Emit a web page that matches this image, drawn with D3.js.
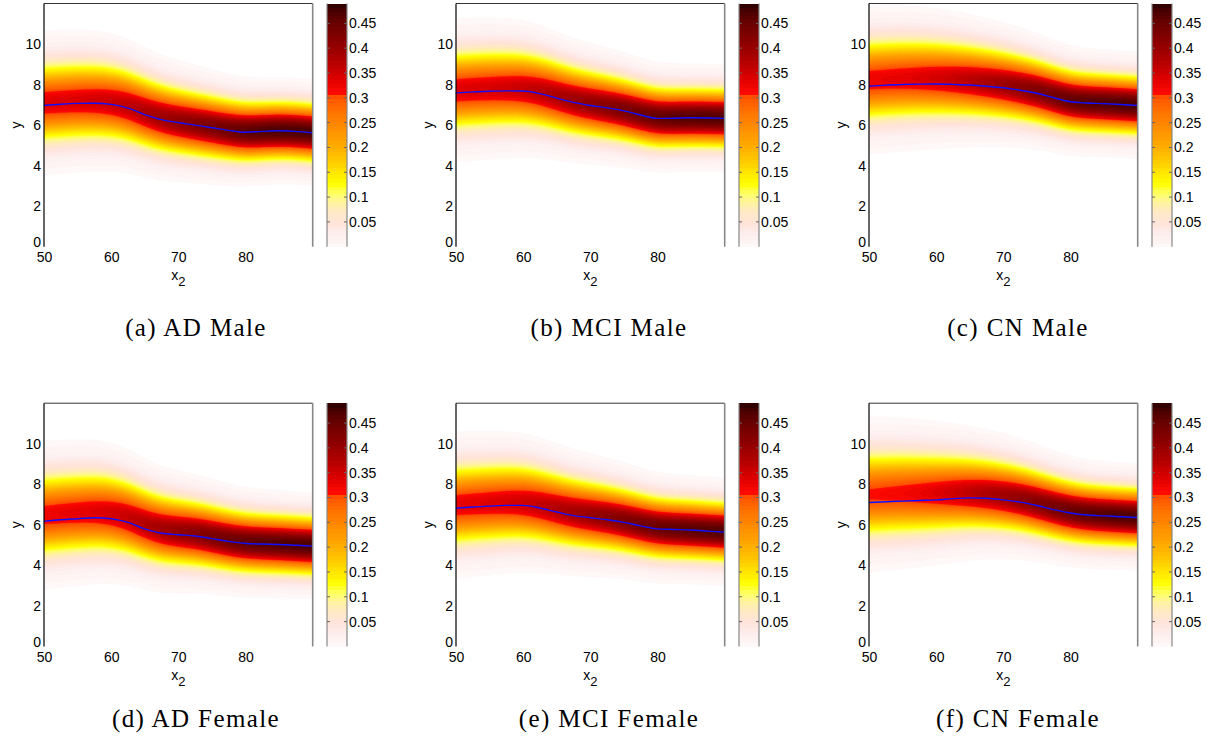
<!DOCTYPE html>
<html>
<head>
<meta charset="utf-8">
<script src="https://cdn.jsdelivr.net/npm/d3@7"></script>
<style>
  body { margin: 0; background: #fff; }
  svg { display: block; }
</style>
</head>
<body>
<svg id="fig" width="1207" height="746"></svg>
<script>
// Age grid (x2) for the fitted mean curves and density centres
const ageKnots = [50, 52.5, 55, 57.5, 60, 62.5, 65, 67.5, 70, 72.5, 75, 77.5, 80, 82.5, 85, 87.5, 90];
// Coarser age grid for the spread of the conditional density
const sdKnots = [50, 55, 60, 65, 70, 75, 80, 85, 90];

// (a) AD Male
const adMaleLine   = [6.97, 7.03, 7.07, 7.08, 7.02, 6.84, 6.52, 6.27, 6.12, 6.00, 5.87, 5.74, 5.65, 5.69, 5.72, 5.69, 5.62];
const adMaleCenter = [7.10, 7.15, 7.19, 7.20, 7.14, 6.96, 6.63, 6.36, 6.19, 6.05, 5.91, 5.77, 5.67, 5.70, 5.73, 5.70, 5.63];
const adMaleSd     = [1.18, 1.17, 1.13, 1.05, 0.97, 0.92, 0.86, 0.84, 0.84];
// (b) MCI Male
const mciMaleLine   = [7.59, 7.64, 7.67, 7.69, 7.68, 7.55, 7.33, 7.12, 6.97, 6.85, 6.70, 6.50, 6.33, 6.34, 6.36, 6.35, 6.33];
const mciMaleCenter = [7.72, 7.77, 7.80, 7.82, 7.80, 7.67, 7.44, 7.21, 7.05, 6.91, 6.75, 6.54, 6.36, 6.36, 6.37, 6.36, 6.34];
const mciMaleSd     = [1.17, 1.16, 1.12, 1.04, 0.97, 0.92, 0.87, 0.85, 0.85];
// (c) CN Male
const cnMaleLine   = [7.92, 7.97, 8.00, 8.02, 8.03, 8.01, 7.98, 7.92, 7.84, 7.72, 7.57, 7.35, 7.15, 7.09, 7.06, 7.02, 6.97];
const cnMaleCenter = [8.22, 8.27, 8.30, 8.31, 8.30, 8.26, 8.20, 8.11, 8.00, 7.85, 7.67, 7.43, 7.20, 7.12, 7.08, 7.03, 6.98];
const cnMaleSd     = [1.22, 1.20, 1.15, 1.08, 1.00, 0.93, 0.87, 0.85, 0.84];
// (d) AD Female
const adFemaleLine   = [6.18, 6.25, 6.30, 6.35, 6.30, 6.12, 5.80, 5.58, 5.51, 5.45, 5.32, 5.18, 5.08, 5.05, 5.03, 4.99, 4.95];
const adFemaleCenter = [6.48, 6.55, 6.60, 6.64, 6.58, 6.38, 6.03, 5.77, 5.66, 5.57, 5.42, 5.25, 5.13, 5.08, 5.05, 5.00, 4.96];
const adFemaleSd     = [1.22, 1.20, 1.16, 1.06, 0.98, 0.92, 0.87, 0.85, 0.84];
// (e) MCI Female
const mciFemaleLine   = [6.82, 6.88, 6.92, 6.96, 6.96, 6.83, 6.63, 6.45, 6.35, 6.25, 6.12, 5.95, 5.80, 5.77, 5.74, 5.69, 5.64];
const mciFemaleCenter = [6.97, 7.03, 7.07, 7.11, 7.10, 6.97, 6.78, 6.60, 6.48, 6.36, 6.21, 6.02, 5.85, 5.80, 5.76, 5.71, 5.66];
const mciFemaleSd     = [1.20, 1.18, 1.14, 1.06, 0.99, 0.93, 0.88, 0.86, 0.85];
// (f) CN Female
const cnFemaleLine   = [7.10, 7.14, 7.17, 7.20, 7.23, 7.29, 7.33, 7.31, 7.23, 7.12, 6.95, 6.75, 6.58, 6.48, 6.44, 6.40, 6.36];
const cnFemaleCenter = [7.50, 7.53, 7.55, 7.56, 7.57, 7.58, 7.57, 7.52, 7.42, 7.28, 7.08, 6.85, 6.65, 6.53, 6.47, 6.42, 6.38];
const cnFemaleSd     = [1.28, 1.25, 1.18, 1.09, 1.01, 0.94, 0.88, 0.85, 0.84];

const captions = ["(a) AD Male", "(b) MCI Male", "(c) CN Male",
                  "(d) AD Female", "(e) MCI Female", "(f) CN Female"];

// Axis ticks
const xTicks = [50, 60, 70, 80];
const yTicks = [0, 2, 4, 6, 8, 10];
const cbTicks = [0.05, 0.1, 0.15, 0.2, 0.25, 0.3, 0.35, 0.4, 0.45];

const panels = [
  { caption: captions[0], line: adMaleLine,    center: adMaleCenter,    sd: adMaleSd },
  { caption: captions[1], line: mciMaleLine,   center: mciMaleCenter,   sd: mciMaleSd },
  { caption: captions[2], line: cnMaleLine,    center: cnMaleCenter,    sd: cnMaleSd },
  { caption: captions[3], line: adFemaleLine,  center: adFemaleCenter,  sd: adFemaleSd },
  { caption: captions[4], line: mciFemaleLine, center: mciFemaleCenter, sd: mciFemaleSd },
  { caption: captions[5], line: cnFemaleLine,  center: cnFemaleCenter,  sd: cnFemaleSd }
];

// ---------- colour map (reversed "hot"-style, 64 levels) ----------
const cbMax = 0.49;
const nLevels = 64;
const rampStops  = [0, 0.025, 0.05, 0.07, 0.09, 0.108, 0.128, 0.15, 0.176, 0.21, 0.245, 0.28, 0.302, 0.31, 0.34, 0.377, 0.41, 0.445, 0.472, 0.49];
const rampColors = ["#fffafa", "#feeeee", "#ffe4da", "#ffe9c6", "#fff3a0", "#ffff66", "#ffff00", "#ffe600", "#ffc800", "#ffa600",
                    "#ff8a00", "#ff6c00", "#ff5400", "#ff0a00", "#dd0000", "#b00000", "#900000", "#700000", "#500000", "#2a0000"];
const ramp = d3.scaleLinear().domain(rampStops).range(rampColors).interpolate(d3.interpolateRgb).clamp(true);
const levelColors = d3.range(nLevels).map(k => ramp((k + 0.5) * cbMax / nLevels));
const levelStep = cbMax / nLevels;
const visibleCut = 0.0035;
// filled bands: everything above the cut, then each colour level boundary
const bandThresholds = [visibleCut].concat(d3.range(1, nLevels).map(k => k * levelStep));
const bandColors = levelColors.slice();

// ---------- layout ----------
const colLeft = [44, 456, 869];
const rowTop = [3.5, 403.2];
const plotW = 268.7, plotH = 243.2;
const cbGap = 283, cbW = 20;
const capX = [196, 609, 1018];
const capY = [336, 727];
const sans = "Liberation Sans, Arial, Helvetica, sans-serif";

const svg = d3.select("#fig");

// sampling grid for the density surface
const gx = 0.25, gy = 0.05;
const nx = Math.round(40 / gx) + 1, ny = Math.round(12 / gy) + 1;
const SQ2PI = Math.sqrt(2 * Math.PI);

panels.forEach((p, i) => {
  const col = i % 3, row = Math.floor(i / 3);
  const g = svg.append("g").attr("transform", `translate(${colLeft[col]},${rowTop[row]})`);

  const x = d3.scaleLinear().domain([50, 90]).range([0, plotW]);
  const y = d3.scaleLinear().domain([0, 12]).range([plotH, 0]);
  // smooth (B-spline) curves through the evenly spaced knots
  const ageT = d3.scaleLinear().domain([50, 90]).range([0, 1]).clamp(true);
  const centerCurve = d3.interpolateBasis(p.center);
  const sdCurve = d3.interpolateBasis(p.sd);
  const centerAt = a => centerCurve(ageT(a));
  const sdAt = a => sdCurve(ageT(a));

  // conditional density p(y | x2) sampled on a regular grid
  const values = new Float64Array(nx * ny);
  for (let c = 0; c < nx; c++) {
    const xv = 50 + c * gx;
    const m = centerAt(xv), s = sdAt(xv);
    for (let r = 0; r < ny; r++) {
      const yv = r * gy;
      values[c + r * nx] = Math.exp(-((yv - m) ** 2) / (2 * s * s)) / (s * SQ2PI);
    }
  }
  const bands = d3.contours().size([nx, ny]).thresholds(bandThresholds)(values);

  // grid coordinate -> screen
  const px = c => x(50 + (c - 0.5) * gx);
  const py = r => y((r - 0.5) * gy);
  const bandPath = mp => mp.coordinates.map(poly => poly.map(ring =>
      "M" + ring.map(([c, r]) => px(c).toFixed(2) + "," + py(r).toFixed(2)).join("L") + "Z"
    ).join("")).join("");

  const clipId = `clip${i}`;
  g.append("clipPath").attr("id", clipId)
    .append("rect").attr("width", plotW).attr("height", plotH);

  g.append("g").attr("clip-path", `url(#${clipId})`)
    .selectAll("path").data(bands).join("path")
    .attr("d", bandPath)
    .attr("fill-rule", "evenodd")
    .attr("fill", (d, k) => bandColors[k])
    .attr("stroke", (d, k) => bandColors[k])
    .attr("stroke-width", 0.3);

  // mean curve
  const pts = ageKnots.map((a, k) => [a, p.line[k]]);
  g.append("path")
    .attr("d", d3.line().x(d => x(d[0])).y(d => y(d[1])).curve(d3.curveMonotoneX)(pts))
    .attr("fill", "none").attr("stroke", "#1010ff").attr("stroke-width", 1.4);

  // frame
  g.append("line").attr("x1", 0).attr("x2", plotW).attr("y1", 0).attr("y2", 0)
    .attr("stroke", "#333").attr("stroke-width", 1);
  g.append("line").attr("x1", plotW).attr("x2", plotW).attr("y1", 0).attr("y2", plotH)
    .attr("stroke", "#888").attr("stroke-width", 1.6);
  g.append("line").attr("x1", 0).attr("x2", 0).attr("y1", 0).attr("y2", plotH)
    .attr("stroke", "#000").attr("stroke-width", 1.2);

  // axes
  const ax = g.append("g").attr("transform", `translate(0,${plotH})`)
    .call(d3.axisBottom(x).tickValues(xTicks).tickSize(0).tickPadding(5.5));
  const ay = g.append("g")
    .call(d3.axisLeft(y).tickValues(yTicks).tickSize(0).tickPadding(3));
  [ax, ay].forEach(a => {
    a.select(".domain").remove();
    a.selectAll("text").attr("font-family", sans).attr("font-size", 14).attr("fill", "#000");
  });
  // lift the bottom "0" so it sits just above the first x label
  ay.selectAll("text").filter(d => d === 0).attr("dy", "0em");

  // axis titles
  const xt = g.append("text")
    .attr("x", plotW / 2).attr("y", plotH + 33.5)
    .attr("text-anchor", "middle").attr("font-family", sans).attr("font-size", 14);
  xt.append("tspan").text("x");
  xt.append("tspan").attr("dy", 6).attr("font-size", 13).text("2");

  g.append("text")
    .attr("transform", `translate(${-27},${plotH / 2}) rotate(-90)`)
    .attr("text-anchor", "middle").attr("dy", "0.32em")
    .attr("font-family", sans).attr("font-size", 14).text("y");

  // colour bar
  const cb = g.append("g").attr("transform", `translate(${cbGap},0)`);
  const cbY = d3.scaleLinear().domain([0, cbMax]).range([plotH, 0]);
  cb.append("g").attr("shape-rendering", "crispEdges")
    .selectAll("rect").data(levelColors).join("rect")
    .attr("x", 0).attr("width", cbW)
    .attr("y", (c, k) => cbY((k + 1) * levelStep))
    .attr("height", cbY(0) - cbY(levelStep) + 0.6)
    .attr("fill", c => c);
  cb.append("line").attr("x1", 0).attr("x2", 0).attr("y1", 0).attr("y2", plotH)
    .attr("stroke", "#888").attr("stroke-width", 1.2);
  cb.append("line").attr("x1", cbW).attr("x2", cbW).attr("y1", 0).attr("y2", plotH)
    .attr("stroke", "#888").attr("stroke-width", 1.2);
  cb.selectAll("line.tk").data(cbTicks).join("line").attr("class", "tk")
    .attr("x1", cbW - 3).attr("x2", cbW).attr("y1", d => cbY(d)).attr("y2", d => cbY(d))
    .attr("stroke", "#666").attr("stroke-width", 1);
  cb.selectAll("line.tkl").data(cbTicks).join("line").attr("class", "tkl")
    .attr("x1", 0).attr("x2", 3).attr("y1", d => cbY(d)).attr("y2", d => cbY(d))
    .attr("stroke", "#666").attr("stroke-width", 1);
  const ac = cb.append("g").attr("transform", `translate(${cbW},0)`)
    .call(d3.axisRight(cbY).tickValues(cbTicks).tickSize(0).tickPadding(2).tickFormat(d => String(d)));
  ac.select(".domain").remove();
  ac.selectAll("text").attr("font-family", sans).attr("font-size", 14).attr("fill", "#000");

  // caption
  svg.append("text")
    .attr("x", capX[col]).attr("y", capY[row])
    .attr("text-anchor", "middle")
    .attr("font-family", "Liberation Serif, Times New Roman, serif")
    .attr("font-size", 25).attr("letter-spacing", 1.4)
    .text(p.caption);
});
</script>
</body>
</html>
